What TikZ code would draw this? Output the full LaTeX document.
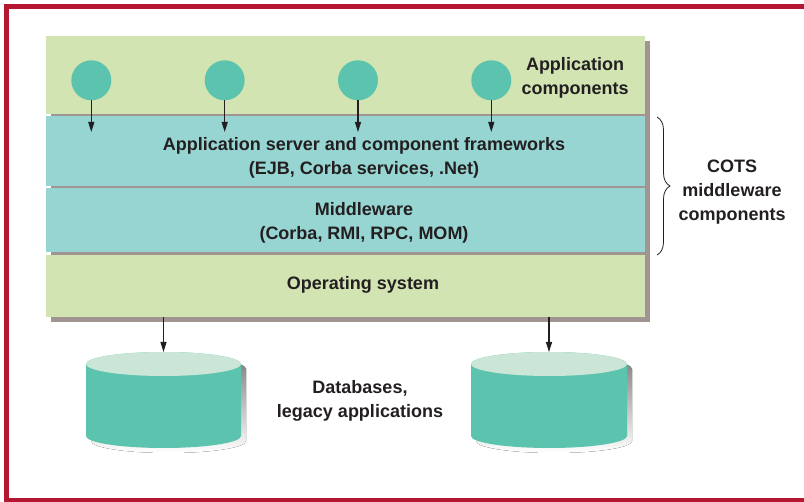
\documentclass[tikz,border=0pt]{standalone}
\usepackage{fontspec}
\setmainfont{Liberation Sans}
\usetikzlibrary{arrows.meta,decorations.pathreplacing}
\definecolor{framered}{HTML}{B51631}
\definecolor{appgreen}{HTML}{D1E4B2}
\definecolor{layteal}{HTML}{97D5D2}
\definecolor{compteal}{HTML}{5CC4AE}
\definecolor{toplight}{HTML}{CBE6D6}
\definecolor{shade}{HTML}{A19592}
\definecolor{ink}{HTML}{231F20}
\begin{document}
\begin{tikzpicture}[x=1pt,y=1pt,
  lbl/.style={font=\bfseries\fontsize{18}{24}\selectfont, text=ink, inner sep=0pt, anchor=base},
  layer/.style={draw=none, inner sep=0pt, outer sep=0pt, anchor=north west, minimum width=599pt},
  comp/.style={circle, fill=compteal, minimum size=40pt, inner sep=0pt, outer sep=0pt},
  link/.style={-{Triangle[length=10pt,width=6pt]}, line width=1.1pt, draw=ink},
]
\useasboundingbox (0,0) rectangle (804,-502);
% frame
\draw[framered, line width=5pt] (804,-501) -- (6,-501) -- (6,-6.5) -- (804,-6.5);

% layered stack
\node[layer, fill=shade, minimum height=281pt] (stackshadow) at (51,-41) {};
\node[layer, fill=appgreen, minimum height=78pt] (app) at (46,-36) {};
\node[layer, fill=layteal, minimum height=70pt] (srv) at (46,-116) {};
\node[layer, fill=layteal, minimum height=64pt] (mid) at (46,-188) {};
\node[layer, fill=appgreen, minimum height=62pt] (os) at (46,-255) {};

% application components
\node[comp] (c1) at (91.3,-80.3) {};
\node[comp] (c2) at (224.7,-80.3) {};
\node[comp] (c3) at (358,-80.3) {};
\node[comp] (c4) at (491.3,-80.3) {};
\coordinate (e1) at (91.3,-132);
\coordinate (e2) at (224.7,-132);
\coordinate (e3) at (358,-132);
\coordinate (e4) at (491.3,-132);
\draw[link] (c1) -- (e1);
\draw[link] (c2) -- (e2);
\draw[link] (c3) -- (e3);
\draw[link] (c4) -- (e4);

% texts in the stack
\node[lbl] (tapp1) at (575,-71) {Application};
\node[lbl] (tapp2) at (575,-95) {components};
\node[lbl] (tsrv1) at (364,-150.7) {Application server and component frameworks};
\node[lbl] (tsrv2) at (364,-174.7) {(EJB, Corba services, .Net)};
\node[lbl] (tmid1) at (364,-216) {Middleware};
\node[lbl] (tmid2) at (364,-240) {(Corba, RMI, RPC, MOM)};
\node[lbl] (tos) at (363,-290) {Operating system};

% brace and COTS label
\draw[decorate, decoration={brace, amplitude=13pt}, line width=0.8pt, ink] (657,-117) -- (657,-255);
\node[lbl] (tcots1) at (732,-172.7) {COTS};
\node[lbl] (tcots2) at (732,-196.7) {middleware};
\node[lbl] (tcots3) at (732,-220.7) {components};

% databases
\fill[shade] (91,-369) -- (91,-441) arc[start angle=180, end angle=360, x radius=77.5, y radius=12]
  -- (246,-369) arc[start angle=0, end angle=180, x radius=77.5, y radius=12] -- cycle;
\fill[compteal] (86,-364) -- (86,-436) arc[start angle=180, end angle=360, x radius=77.5, y radius=12]
  -- (241,-364) arc[start angle=0, end angle=180, x radius=77.5, y radius=12] -- cycle;
\fill[toplight] (163.5,-364) ellipse[x radius=77.5, y radius=12];
\coordinate (db1top) at (163.5,-352);

\fill[shade] (476,-369) -- (476,-441) arc[start angle=180, end angle=360, x radius=78, y radius=12]
  -- (632,-369) arc[start angle=0, end angle=180, x radius=78, y radius=12] -- cycle;
\fill[compteal] (471,-364) -- (471,-436) arc[start angle=180, end angle=360, x radius=78, y radius=12]
  -- (627,-364) arc[start angle=0, end angle=180, x radius=78, y radius=12] -- cycle;
\fill[toplight] (549,-364) ellipse[x radius=78, y radius=12];
\coordinate (db2top) at (549,-352);

\draw[link] (os.south -| db1top) -- (db1top);
\draw[link] (os.south -| db2top) -- (db2top);

\node[lbl] (tdb1) at (360,-394) {Databases,};
\node[lbl] (tdb2) at (360,-418) {legacy applications};
\end{tikzpicture}
\end{document}
